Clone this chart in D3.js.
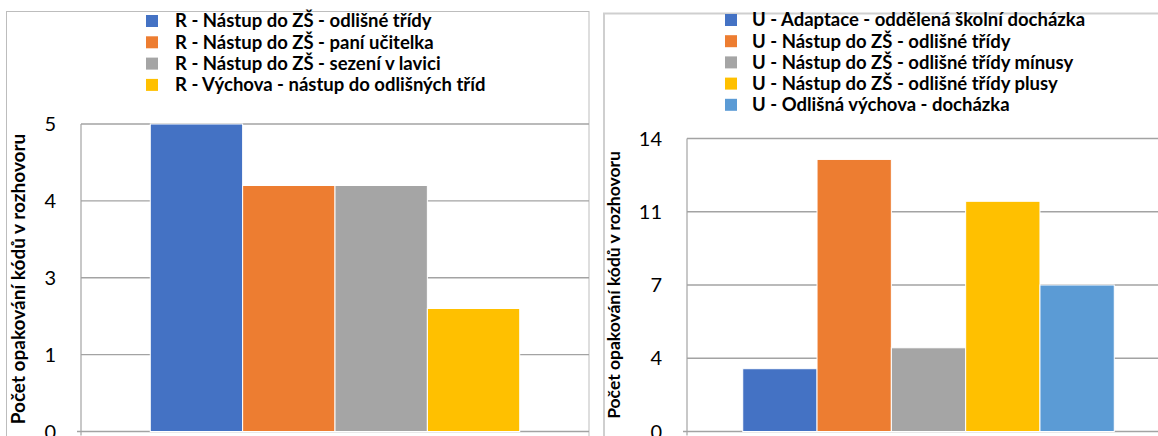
<!DOCTYPE html>
<html><head><meta charset="utf-8">
<script src="https://cdn.jsdelivr.net/npm/d3@7"></script>
<style>html,body{margin:0;padding:0;background:#fff;overflow:hidden}</style>
</head><body>
<svg id="c" width="1158" height="436"></svg>
<script>
// ---- data ----
const leftSeries = ["R - Nástup do ZŠ - odlišné třídy","R - Nástup do ZŠ - paní učitelka","R - Nástup do ZŠ - sezení v lavici","R - Výchova - nástup do odlišných tříd"];
const leftValues = [5, 4, 4, 2];
const leftTickValues = [0, 1.25, 2.5, 3.75, 5];
const leftTickLabels = ["0", "1", "3", "4", "5"];

const rightSeries = ["U - Adaptace - oddělená školní docházka","U - Nástup do ZŠ - odlišné třídy","U - Nástup do ZŠ - odlišné třídy mínusy","U - Nástup do ZŠ - odlišné třídy plusy","U - Odlišná výchova - docházka"];
const rightValues = [3, 13, 4, 11, 7];
const rightTickValues = [0, 3.5, 7, 10.5, 14];
const rightTickLabels = ["0", "4", "7", "11", "14"];

const yTitle = "Počet opakování kódů v rozhovoru";
const colors = ["#4472C4","#ED7D31","#A5A5A5","#FFC000","#5B9BD5"];

const svg = d3.select("#c");
const FONT = "Lato, 'Open Sans', sans-serif";

function panel(cfg){
  const g = svg.append("g");
  g.append("rect").attr("x",cfg.bx).attr("y",cfg.by).attr("width",cfg.bw).attr("height",600)
    .attr("fill","#fff").attr("stroke",cfg.bstroke).attr("stroke-width",cfg.bsw);
  const y = d3.scaleLinear().domain([0, cfg.max]).range([cfg.y0, cfg.y1]);
  const x = d3.scaleBand().domain(cfg.series).range([cfg.x0, cfg.x1]).paddingInner(0).paddingOuter(0.75);
  g.append("g").selectAll("line").data(cfg.ticks.slice(1)).join("line")
    .attr("x1",cfg.x0).attr("x2",cfg.x1).attr("y1",d=>y(d)).attr("y2",d=>y(d))
    .attr("stroke","#a3a3a3").attr("stroke-width",1.4);
  g.append("line").attr("x1",cfg.x0-4).attr("x2",cfg.x1).attr("y1",y(0)).attr("y2",y(0))
    .attr("stroke","#a3a3a3").attr("stroke-width",1.4);
  g.append("line").attr("x1",cfg.x0).attr("x2",cfg.x0).attr("y1",y(cfg.max)).attr("y2",y(0)+4)
    .attr("stroke","#a3a3a3").attr("stroke-width",1.2);
  g.append("g").selectAll("text").data(cfg.ticks).join("text")
    .attr("x",cfg.labelX).attr("y",d=>y(d)).attr("dy","0.36em")
    .attr("text-anchor","end").attr("font-family",FONT).attr("font-size",cfg.tickSize).attr("fill","#000")
    .text((d,i)=>cfg.tickLabels[i]);
  g.append("g").selectAll("rect").data(cfg.values).join("rect")
    .attr("x",(d,i)=>x(cfg.series[i])).attr("width",x.bandwidth())
    .attr("y",d=>y(d)).attr("height",d=>y(0)-y(d))
    .attr("fill",(d,i)=>colors[i]).attr("stroke","#fff").attr("stroke-width",1);
  g.append("text").attr("transform",`translate(${cfg.tx},${cfg.ty}) rotate(-90)`)
    .attr("text-anchor","middle").attr("dy","0.35em")
    .attr("font-family",FONT).attr("font-weight","bold").attr("font-size",cfg.titleSize).attr("fill","#000")
    .text(yTitle);
  const lg = g.append("g").selectAll("g").data(cfg.series).join("g")
    .attr("transform",(d,i)=>`translate(0,${cfg.ly + i*cfg.lstep})`);
  lg.append("rect").attr("x",cfg.lsx).attr("y",-6).attr("width",12).attr("height",12)
    .attr("fill",(d,i)=>colors[i]);
  lg.append("text").attr("x",cfg.ltx).attr("dy","0.35em")
    .attr("font-family",FONT).attr("font-weight","bold").attr("font-size",cfg.lsize).attr("fill","#000")
    .text(d=>d);
}

panel({bx:6.5,by:11.5,bw:582.5,bstroke:"#bdbdbd",bsw:1,
  max:5,y0:431.5,y1:124,x0:81,x1:589,series:leftSeries,values:leftValues,
  ticks:leftTickValues,tickLabels:leftTickLabels,labelX:56,tickSize:20,
  tx:18,ty:279,titleSize:19,
  ly:21,lstep:21.3,lsx:146,ltx:175,lsize:18.5});

panel({bx:604,by:13.5,bw:700,bstroke:"#cfcfcf",bsw:2,
  max:14,y0:431.5,y1:138.5,x0:687,x1:1170,series:rightSeries,values:rightValues,
  ticks:rightTickValues,tickLabels:rightTickLabels,labelX:662,tickSize:20,
  tx:614,ty:285,titleSize:17.5,
  ly:20,lstep:21.2,lsx:725,ltx:752,lsize:18.5});
</script>
</body></html>
